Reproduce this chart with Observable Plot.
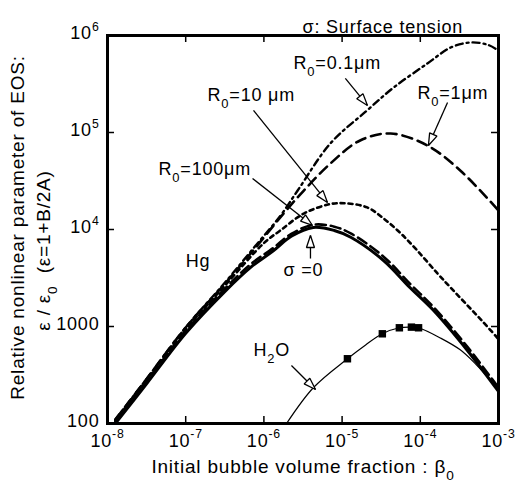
<!DOCTYPE html>
<html>
<head>
<meta charset="utf-8">
<script src="https://cdn.jsdelivr.net/npm/d3@7"></script>
<script src="https://cdn.jsdelivr.net/npm/@observablehq/plot@0.6"></script>
<style>
  body { margin: 0; background: #fff; }
  svg text { letter-spacing: 0.8px; }
</style>
</head>
<body>
<div id="chart"></div>
<script>
// Axis ticks (decades) and their labels
const xTicks = [1e-8, 1e-7, 1e-6, 1e-5, 1e-4, 1e-3];
const xTickLabels = ["10^{-8}", "10^{-7}", "10^{-6}", "10^{-5}", "10^{-4}", "10^{-3}"];
const yTicks = [100, 1000, 1e4, 1e5, 1e6];
const yTickLabels = ["100", "1000", "10^{4}", "10^{5}", "10^{6}"];

// Hg, no surface tension (sigma = 0)
const hgSigma0Beta = [1.26e-8, 3.16e-8, 1.0e-7, 3.16e-7, 6.76e-7, 1.32e-6, 2.24e-6, 4.27e-6, 7.94e-6, 1.29e-5, 3.39e-5, 7.41e-5, 1.48e-4, 3.98e-4, 1.0e-3];
const hgSigma0Eps  = [100, 257, 851, 2290, 4070, 6030, 8510, 10500, 9770, 8320, 4790, 2510, 1460, 569, 214];

// Hg, R0 = 100 um
const hgR100Beta = [1.26e-8, 3.16e-8, 1.0e-7, 3.16e-7, 6.76e-7, 1.32e-6, 2.24e-6, 4.27e-6, 7.94e-6, 1.29e-5, 3.39e-5, 7.41e-5, 1.48e-4, 3.98e-4, 1.0e-3];
const hgR100Eps  = [105, 272, 900, 2450, 4370, 6460, 9000, 11200, 10700, 9120, 5250, 2750, 1580, 620, 234];

// Hg, R0 = 10 um
const hgR10Beta = [1.26e-8, 3.16e-8, 1.0e-7, 3.16e-7, 1.0e-6, 1.62e-6, 3.24e-6, 7.08e-6, 1.12e-5, 2.09e-5, 3.39e-5, 5.62e-5, 9.12e-5, 1.66e-4, 2.45e-4, 3.98e-4, 6.31e-4, 1.0e-3];
const hgR10Eps  = [107, 282, 933, 2630, 7240, 9770, 14600, 18300, 18600, 16900, 13000, 9120, 6080, 3520, 2510, 1660, 1120, 741];

// Hg, R0 = 1 um
const hgR1Beta = [1.26e-8, 3.16e-8, 1.0e-7, 3.16e-7, 7.41e-7, 1.78e-6, 3.24e-6, 7.08e-6, 1.70e-5, 4.17e-5, 1.23e-4, 3.24e-4, 1.0e-3];
const hgR1Eps  = [110, 288, 977, 2750, 6170, 14600, 25200, 47900, 82800, 97700, 73500, 40600, 15700];

// Hg, R0 = 0.1 um
const hgR01Beta = [1.26e-8, 3.16e-8, 1.0e-7, 3.16e-7, 7.41e-7, 1.62e-6, 2.69e-6, 7.08e-6, 2.09e-5, 4.57e-5, 1.23e-4, 2.45e-4, 4.37e-4, 7.24e-4, 1.0e-3];
const hgR01Eps  = [110, 288, 977, 2820, 6460, 13800, 25100, 77100, 169000, 291000, 514000, 752000, 847000, 804000, 700000];

// Water: computed curve and measured points
const h2oBeta = [1.95e-6, 4.31e-6, 1.17e-5, 2.0e-5, 3.27e-5, 5.4e-5, 7.7e-5, 9.5e-5, 1.82e-4, 3.24e-4, 5.0e-4, 1.0e-3];
const h2oEps  = [100, 235, 465, 646, 841, 970, 985, 970, 759, 575, 417, 224];
const h2oPointBeta = [1.17e-5, 3.27e-5, 5.4e-5, 7.7e-5, 9.5e-5];
const h2oPointEps  = [465, 841, 970, 985, 970];

const rows = (xs, ys) => xs.map((x, i) => ({beta: x, eps: ys[i]}));

// Callout labels (data coordinates) and their arrows
const notes = [
  {text: "R_{0}=0.1μm", beta: 2.39e-6, eps: 5.14e5},
  {text: "R_{0}=1μm", beta: 9.2e-5, eps: 2.52e5},
  {text: "R_{0}=10 μm", beta: 1.9e-7, eps: 2.4e5},
  {text: "R_{0}=100μm", beta: 4.49e-8, eps: 4.16e4},
  {text: "σ =0", beta: 1.78e-6, eps: 3775},
  {text: "Hg", beta: 1e-7, eps: 4680},
  {text: "H_{2}O", beta: 7.36e-7, eps: 566}
];
const arrows = [
  {x1: 1.10e-5, y1: 3.61e5, x2: 2.11e-5, y2: 1.90e5},
  {x1: 2.23e-4, y1: 2.04e5, x2: 1.27e-4, y2: 7.35e4},
  {x1: 7.36e-7, y1: 1.69e5, x2: 6.5e-6, y2: 1.90e4},
  {x1: 7.15e-7, y1: 3.36e4, x2: 4.18e-6, y2: 1.10e4},
  {x1: 3.94e-6, y1: 5020, x2: 3.94e-6, y2: 8670},
  {x1: 2.25e-6, y1: 396, x2: 4.57e-6, y2: 224}
];

// Hollow triangular arrowhead
function hollowHead(color, context) {
  const ns = "http://www.w3.org/2000/svg";
  const doc = (context && context.document) || document;
  const marker = doc.createElementNS(ns, "marker");
  marker.setAttribute("viewBox", "-14 -6 16 12");
  marker.setAttribute("markerWidth", "16");
  marker.setAttribute("markerHeight", "12");
  marker.setAttribute("markerUnits", "userSpaceOnUse");
  marker.setAttribute("orient", "auto");
  const path = doc.createElementNS(ns, "path");
  path.setAttribute("d", "M0,0L-12,-4L-12,4Z");
  path.setAttribute("fill", "white");
  path.setAttribute("stroke", color);
  path.setAttribute("stroke-width", "1.3");
  marker.appendChild(path);
  return marker;
}

const plot = Plot.plot({
  width: 516,
  height: 498,
  marginLeft: 107,
  marginRight: 18,
  marginTop: 35,
  marginBottom: 75,
  x: {type: "log", domain: [1e-8, 1e-3], axis: null},
  y: {type: "log", domain: [100, 1e6], axis: null},
  style: {fontFamily: "'Liberation Sans', Arial, Helvetica, sans-serif", background: "white", color: "black"},
  marks: [
    // inward ticks on all four sides
    Plot.tickX(xTicks, {x: d => d, insetTop: 381, stroke: "black", strokeWidth: 1.5}),
    Plot.tickX(xTicks, {x: d => d, insetBottom: 381, stroke: "black", strokeWidth: 1.5}),
    Plot.tickY(yTicks, {y: d => d, insetRight: 384, stroke: "black", strokeWidth: 1.5}),
    Plot.tickY(yTicks, {y: d => d, insetLeft: 384, stroke: "black", strokeWidth: 1.5}),

    Plot.line(rows(hgR01Beta, hgR01Eps), {x: "beta", y: "eps", curve: "catmull-rom", stroke: "black", strokeWidth: 2.4, strokeDasharray: "7,4,2,4", clip: true}),
    Plot.line(rows(hgR1Beta, hgR1Eps), {x: "beta", y: "eps", curve: "catmull-rom", stroke: "black", strokeWidth: 2.6, strokeDasharray: "10,6", clip: true}),
    Plot.line(rows(hgR10Beta, hgR10Eps), {x: "beta", y: "eps", curve: "catmull-rom", stroke: "black", strokeWidth: 2.6, strokeDasharray: "4,4", clip: true}),
    Plot.line(rows(hgR100Beta, hgR100Eps), {x: "beta", y: "eps", curve: "catmull-rom", stroke: "black", strokeWidth: 2.6, strokeDasharray: "10,5", clip: true}),
    Plot.line(rows(hgSigma0Beta, hgSigma0Eps), {x: "beta", y: "eps", curve: "catmull-rom", stroke: "black", strokeWidth: 3, clip: true}),
    Plot.line(rows(h2oBeta, h2oEps), {x: "beta", y: "eps", curve: "catmull-rom", stroke: "black", strokeWidth: 1.2, clip: true}),
    Plot.dot(rows(h2oPointBeta, h2oPointEps), {x: "beta", y: "eps", symbol: "square", r: 4.2, fill: "black"}),

    Plot.link(arrows, {x1: "x1", y1: "y1", x2: "x2", y2: "y2", stroke: "black", strokeWidth: 1.3, markerEnd: hollowHead}),
    Plot.text(notes, {x: "beta", y: "eps", text: "text", textAnchor: "start", fontSize: 18}),

    Plot.frame({stroke: "black", strokeWidth: 3}),

    // tick labels
    Plot.text(xTicks, {x: d => d, text: (d, i) => xTickLabels[i], frameAnchor: "bottom", dy: 23, fontSize: 18}),
    Plot.text(yTicks, {y: d => d, text: (d, i) => yTickLabels[i], frameAnchor: "left", textAnchor: "end", dx: -8, dy: -2, fontSize: 18}),

    // axis titles and legend note
    Plot.text(["Initial bubble volume fraction : β_{0}"], {frameAnchor: "bottom", textAnchor: "middle", dy: 49, fontSize: 19}),
    Plot.text(["Relative nonlinear parameter of EOS:"], {frameAnchor: "left", textAnchor: "middle", rotate: -90, dx: -90, dy: -2, fontSize: 19}),
    Plot.text(["ε / ε_{0}\u00a0\u00a0(ε=1+B/2A)"], {frameAnchor: "left", textAnchor: "middle", rotate: -90, dx: -64, dy: 21, fontSize: 19}),
    Plot.text(["σ: Surface tension"], {frameAnchor: "top-left", textAnchor: "start", dx: 195, dy: -15, fontSize: 18})
  ]
});

document.getElementById("chart").append(plot);

// Turn _{...} and ^{...} into subscript / superscript tspans
function richText(svg) {
  d3.select(svg).selectAll("text").each(function () {
    const el = this;
    if (el.children.length) return;
    const s = el.textContent;
    if (!/[_^]\{/.test(s)) return;
    const size = parseFloat(getComputedStyle(el).fontSize) || 18;
    const re = /([_^])\{([^}]*)\}/g;
    const parts = [];
    let last = 0, m;
    while ((m = re.exec(s))) {
      if (m.index > last) parts.push({t: s.slice(last, m.index), kind: null});
      parts.push({t: m[2], kind: m[1]});
      last = re.lastIndex;
    }
    if (last < s.length) parts.push({t: s.slice(last), kind: null});
    el.textContent = "";
    let shift = 0;
    for (const p of parts) {
      const ts = d3.select(el).append("tspan").text(p.t);
      let target = 0;
      if (p.kind === "^") { target = -0.45 * size; ts.attr("font-size", 0.68 * size); }
      else if (p.kind === "_") { target = 0.38 * size; ts.attr("font-size", 0.72 * size); }
      if (target - shift !== 0) ts.attr("dy", target - shift);
      shift = target;
    }
  });
}
richText(plot);
</script>
</body>
</html>
